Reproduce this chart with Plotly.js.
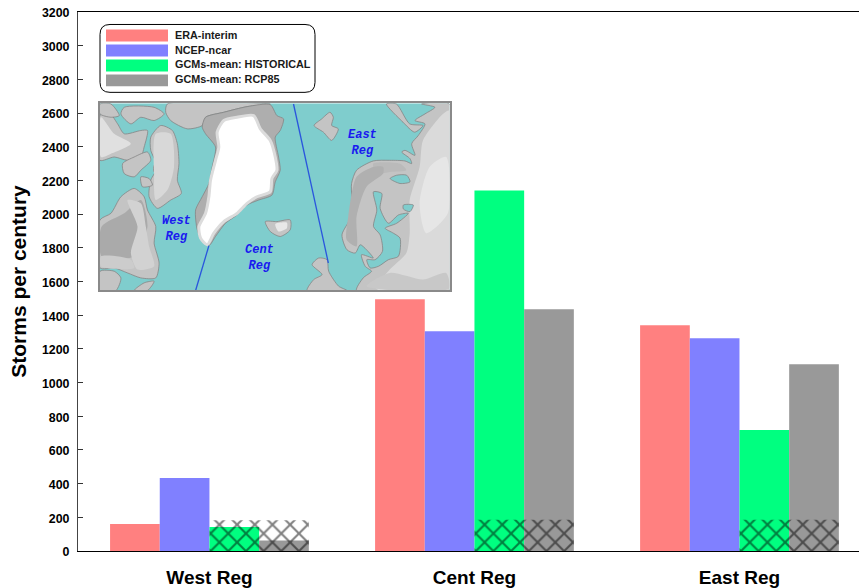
<!DOCTYPE html>
<html>
<head>
<meta charset="utf-8">
<script src="https://cdn.plot.ly/plotly-3.0.1.min.js"></script>
<style>html,body{margin:0;padding:0;background:#fff}#chart{width:859px;height:588px}</style>
</head>
<body>
<div id="chart"></div>
<script>
// ---- chart data ----
const regions = ['West Reg', 'Cent Reg', 'East Reg'];
const seriesNames = ['ERA-interim', 'NCEP-ncar', 'GCMs-mean: HISTORICAL', 'GCMs-mean: RCP85'];
const seriesColors = ['#ff8080', '#8080ff', '#00ff80', '#999999'];
const eraInterim = [160, 1495, 1340];
const ncepNcar = [433, 1305, 1263];
const gcmHistorical = [142, 2140, 718];
const gcmRcp85 = [62, 1435, 1109];
const hatchHistorical = [182, 185, 185];
const hatchRcp85 = [182, 185, 185];
const yTicks = [0,200,400,600,800,1000,1200,1400,1600,1800,2000,2200,2400,2600,2800,3000,3200];

// ---- inset map outlines (map coordinates) ----
const seaX = [27,1080,1080,27,27], seaY = [308,308,873,873,308];
const greenlandLand = [[335,380],[345,350],[400,335],[470,318],[540,312],[560,345],[580,355],[570,390],[555,410],[565,470],[570,510],[555,545],[545,585],[505,600],[470,615],[440,645],[405,670],[375,710],[355,738],[335,725],[320,690],[315,630],[335,590],[355,550],[365,500],[375,440],[345,400]];
const greenlandIce = [[380,395],[400,360],[440,350],[490,345],[510,385],[540,420],[555,470],[560,510],[545,535],[540,575],[500,590],[470,610],[440,640],[400,665],[370,700],[350,735],[330,715],[325,680],[345,640],[355,590],[360,540],[375,480],[385,440]];
const ellesmere = [[230,310],[540,310],[470,318],[400,335],[345,350],[335,375],[290,385],[240,360],[225,335]];
const baffin = [[180,410],[210,375],[245,390],[260,430],[265,490],[260,540],[272,580],[240,600],[200,625],[175,590],[180,540],[200,500],[180,450]];
const arcticA = [[27,345],[50,330],[80,370],[100,400],[150,390],[170,390],[160,440],[150,470],[110,480],[70,470],[27,480]];
const arcticB = [[100,320],[190,320],[220,340],[190,360],[150,350],[120,370],[90,340]];
const arcticC = [[95,490],[130,470],[170,455],[180,480],[150,510],[130,530],[100,520]];
const arcticD = [[190,495],[215,490],[215,510],[190,515]];
const arcticE = [[150,530],[175,535],[185,555],[155,560]];
const arcticF = [[27,310],[60,310],[85,345],[60,350],[27,340]];
const canada = [[27,660],[60,640],[90,590],[130,565],[160,590],[170,630],[195,680],[190,730],[205,790],[195,835],[150,835],[110,820],[70,805],[27,805]];
const quebecSW = [[27,815],[70,815],[90,835],[75,873],[27,873]];
const ungava = [[130,873],[160,850],[190,845],[170,873]];
const iceland = [[525,665],[560,665],[600,660],[600,690],[570,710],[540,695]];
const svalbard = [[672,375],[695,355],[720,335],[730,350],[725,375],[745,385],[725,420],[700,395]];
const novaya = [[890,310],[920,310],[960,370],[1000,375],[975,395],[940,365]];
const eurasia = [[996,310],[1036,320],[1006,340],[976,360],[1006,370],[986,405],[966,430],[976,465],[946,450],[936,455],[961,475],[966,490],[946,482],[900,480],[850,482],[800,510],[785,550],[786,645],[756,705],[771,750],[796,760],[811,735],[830,750],[850,775],[815,765],[826,800],[845,815],[820,835],[800,873],[1080,873],[1080,310]];
const britain = [[666,795],[686,775],[711,780],[716,815],[746,860],[771,873],[651,873],[671,840],[696,825]];
const baltic = [[851,575],[876,580],[871,625],[896,670],[926,645],[956,640],[921,670],[886,685],[911,700],[931,715],[926,770],[896,780],[866,800],[841,805],[831,780],[856,780],[878,755],[871,705],[851,680],[861,630]];
const ladoga = [[941,615],[971,615],[961,635],[941,627]];
const whiteSea = [[901,535],[931,550],[961,545],[951,525],[921,525]];
const russiaLight = [[1000,420],[1060,340],[1080,330],[1080,868],[860,868],[900,810],[950,760],[960,700],[960,600],[990,500]];
const russiaPale = [[1020,500],[1070,470],[1075,640],[1010,700],[990,610]];
const europeBand = [[830,860],[900,820],[1000,840],[1070,820],[1078,868]];
const kola = [[850,490],[930,490],[950,510],[900,515],[860,520]];
const scandiDark = [[800,530],[850,500],[880,500],[880,520],[830,560],[800,650],[800,740],[770,720],[775,650]];
const canadaDark = [[32,680],[100,640],[150,600],[170,680],[130,770],[32,770]];
const canadaLight = [[110,600],[150,610],[165,680],[175,740],[190,800],[140,810],[120,760],[140,680]];
const canadaSouth = [[30,770],[120,780],[130,805],[30,800]];
const arcticLight = [[30,350],[70,400],[120,430],[60,460],[30,470]];
const baffinLight = [[195,400],[240,400],[250,500],[230,570],[195,600],[190,520]];
const icelandLight = [[555,672],[590,668],[590,685],[565,695]];
const westLineX = [355,315], westLineY = [738,873];
const eastLineX = [610,715], eastLineY = [310,790];
const mapLabels = [['West<br>Reg',257,687],['Cent<br>Reg',508,774],['East<br>Reg',817,428]];

// ---- layout constants ----
const M = {l:78, r:0, t:11.5, b:36.5};
const W = 859, H = 588, PW = W-M.l-M.r, PH = H-M.t-M.b;
const px = v => (v-M.l)/PW;
const py = v => (H-M.b-v)/PH;
const slot = 0.1875;
const offsets = [-2*slot, -slot, 0, slot];

const bar = (name, y, i) => ({type:'bar', name, x:regions, y, width:slot, offset:offsets[i],
  marker:{color:seriesColors[i], line:{width:0}}, showlegend:false, xaxis:'x', yaxis:'y'});
const hatch = (name, y, i) => ({type:'bar', name:name+' (hatched)', x:regions, y, width:slot, offset:offsets[i],
  marker:{color:'rgba(0,0,0,0)', line:{width:0}, pattern:{shape:'x', fgcolor:'#000000', bgcolor:'rgba(0,0,0,0)', size:12.5, solidity:0.3, fillmode:'overlay'}},
  showlegend:false, hoverinfo:'skip', xaxis:'x', yaxis:'y'});
const poly = (pts, fill, line, lw) => ({type:'scatter', mode:'lines', x:pts.map(p=>p[0]).concat(pts[0][0]), y:pts.map(p=>p[1]).concat(pts[0][1]),
  fill:'toself', fillcolor:fill, line:{color:line||fill, width:line?(lw||0.8):0, shape:'spline', smoothing:0.7}, hoverinfo:'skip', showlegend:false, xaxis:'x2', yaxis:'y2'});

const LAND='#c4c4c4', EDGE='#858585', SEA='#7fcdcd';
const traces = [
  bar(seriesNames[0], eraInterim, 0), bar(seriesNames[1], ncepNcar, 1),
  bar(seriesNames[2], gcmHistorical, 2), bar(seriesNames[3], gcmRcp85, 3),
  hatch(seriesNames[2], hatchHistorical, 2), hatch(seriesNames[3], hatchRcp85, 3),
  {type:'scatter', mode:'lines', x:seaX, y:seaY, fill:'toself', fillcolor:SEA, line:{width:0}, hoverinfo:'skip', showlegend:false, xaxis:'x2', yaxis:'y2'},
  ...[ellesmere,baffin,arcticA,arcticB,arcticC,arcticD,arcticE,arcticF,canada,quebecSW,ungava,iceland,svalbard,novaya,eurasia,britain].map(p=>poly(p,LAND,EDGE)),
  poly(russiaLight,'#dadada'), poly(russiaPale,'#e6e6e6'), poly(europeBand,'#c8c8c8'), poly(kola,'#bababa'), poly(scandiDark,'#b0b0b0'),
  poly(canadaDark,'#aaaaaa'), poly(canadaLight,'#d2d2d2'), poly(canadaSouth,'#cccccc'), poly(arcticLight,'#e0e0e0'), poly(baffinLight,'#d8d8d8'), poly(icelandLight,'#e8e8e8'),
  poly(baltic,SEA,EDGE), poly(ladoga,SEA,EDGE), poly(whiteSea,SEA,EDGE),
  poly(greenlandLand,'#aeaeae',EDGE), poly(greenlandIce,'#ffffff','#dcdcdc',3),
  ...[[westLineX,westLineY],[eastLineX,eastLineY]].map(l=>({type:'scatter',mode:'lines',x:l[0],y:l[1],line:{color:'#2a55dd',width:1.3},hoverinfo:'skip',showlegend:false,xaxis:'x2',yaxis:'y2'}))
];

// hand-built legend box (rounded, wide swatches)
const bx0=px(100), bx1=px(315), by0=py(24), by1=py(92), rx=10/PW, ry=10/PH;
const legendSwatchTop = [29,44,59,74];
const legendTextY = [35,50,64,79];
const shapes = [{type:'path', xref:'paper', yref:'paper', layer:'above', fillcolor:'#ffffff', line:{color:'#000000',width:1},
  path:`M${bx0+rx},${by0}L${bx1-rx},${by0}Q${bx1},${by0} ${bx1},${by0-ry}L${bx1},${by1+ry}Q${bx1},${by1} ${bx1-rx},${by1}L${bx0+rx},${by1}Q${bx0},${by1} ${bx0},${by1+ry}L${bx0},${by0-ry}Q${bx0},${by0} ${bx0+rx},${by0}Z`}];
seriesColors.forEach((c,i)=>shapes.push({type:'rect', xref:'paper', yref:'paper', layer:'above', x0:px(106), x1:px(168), y0:py(legendSwatchTop[i]), y1:py(legendSwatchTop[i]+12), fillcolor:c, line:{width:0}}));

const annotations = seriesNames.map((n,i)=>({xref:'paper', yref:'paper', x:px(172.5), y:py(legendTextY[i]), xanchor:'left', yanchor:'middle', showarrow:false, text:n, font:{family:'Liberation Sans', size:10.8, color:'#1a1a1a', weight:'bold'}}));
mapLabels.forEach(m=>annotations.push({xref:'x2', yref:'y2', x:m[1], y:m[2], showarrow:false, text:m[0], align:'center', font:{family:'Liberation Mono', size:12, color:'#1a1af0', weight:'bold', style:'italic'}}));

const layout = {
  width:W, height:H, margin:M, paper_bgcolor:'#ffffff', plot_bgcolor:'#ffffff', barmode:'overlay', showlegend:false,
  font:{family:'Liberation Sans', color:'#000000'},
  xaxis:{type:'category', domain:[0,1], range:[-0.496,2.451], showline:true, mirror:true, linecolor:'#000000', linewidth:1, ticks:'', ticklabelstandoff:9, tickfont:{size:19, family:'Liberation Sans', weight:'bold'}, showgrid:false, zeroline:false, fixedrange:true},
  yaxis:{domain:[0,1], range:[0,3200], tickvals:yTicks, ticktext:yTicks.map(String), ticks:'inside', ticklen:5, tickcolor:'#333333', tickwidth:1, showline:true, linecolor:'#444444', linewidth:1, showgrid:false, zeroline:false, tickfont:{size:12.4, family:'Liberation Sans', weight:'bold'}, ticklabelstandoff:5, ticklabelshift:1, automargin:true, title:{text:'Storms per century', standoff:9, font:{size:21, family:'Liberation Sans', weight:'bold'}}, fixedrange:true},
  xaxis2:{domain:[px(100),px(449.5)], anchor:'y2', range:[27,1080], showticklabels:false, ticks:'', showgrid:false, zeroline:false, showline:true, mirror:true, linecolor:'#8a8a8a', linewidth:1.5, fixedrange:true},
  yaxis2:{domain:[py(290.5),py(103)], anchor:'x2', range:[873,308], showticklabels:false, ticks:'', showgrid:false, zeroline:false, showline:true, mirror:true, linecolor:'#8a8a8a', linewidth:1.5, fixedrange:true},
  shapes, annotations
};
Plotly.newPlot('chart', traces, layout, {displayModeBar:false, responsive:false});
</script>
</body>
</html>
